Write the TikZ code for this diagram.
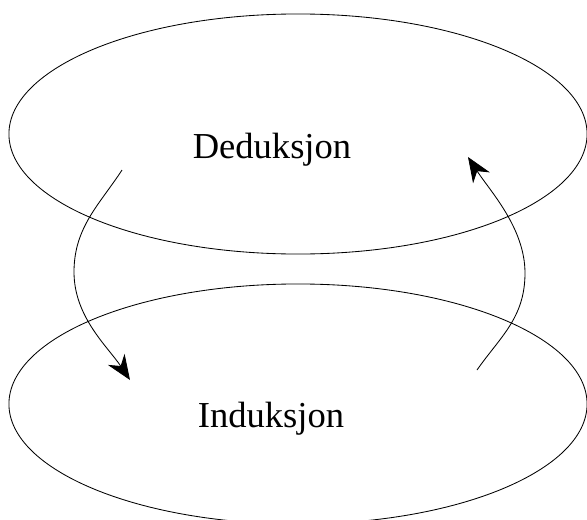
\documentclass[tikz,border=0pt]{standalone}
\usepackage{fontspec}
\setmainfont{Liberation Serif}
\usepackage{tikz}
\usetikzlibrary{shapes.geometric,arrows.meta,positioning}

\begin{document}
\begin{tikzpicture}[
    x=0.025cm, y=-0.025cm,
    felt/.style={ellipse, draw, line width=0.6pt, minimum width=14.45cm, minimum height=6cm, inner sep=0pt},
    tekst/.style={anchor=base, font=\fontsize{26}{30}\selectfont},
    pil/.style={line width=0.6pt, -{Stealth[length=0.62cm, width=0.5cm, inset=0.2cm]}}
]
    \useasboundingbox (0,0) rectangle (587,520);
    \node[felt] (ded) at (298,134) {};
    \node[felt] (ind) at (298,404) {};
    \node[tekst] (dedtxt) at (272,158) {Deduksjon};
    \node[tekst] (indtxt) at (271,427) {Induksjon};
    % pilene mellom de to feltene
    \coordinate (ned1) at (122,170);
    \coordinate (ned2) at (130,380);
    \coordinate (opp1) at (477,370);
    \coordinate (opp2) at (468,157);
    \draw[pil] (ned1) .. controls (100,204) and (74,227) .. (74,272)
                      .. controls (74,317) and (108,347) .. (ned2);
    \draw[pil] (opp1) .. controls (500,337) and (525,318) .. (525,273)
                      .. controls (525,228) and (490,191) .. (opp2);
\end{tikzpicture}
\end{document}
